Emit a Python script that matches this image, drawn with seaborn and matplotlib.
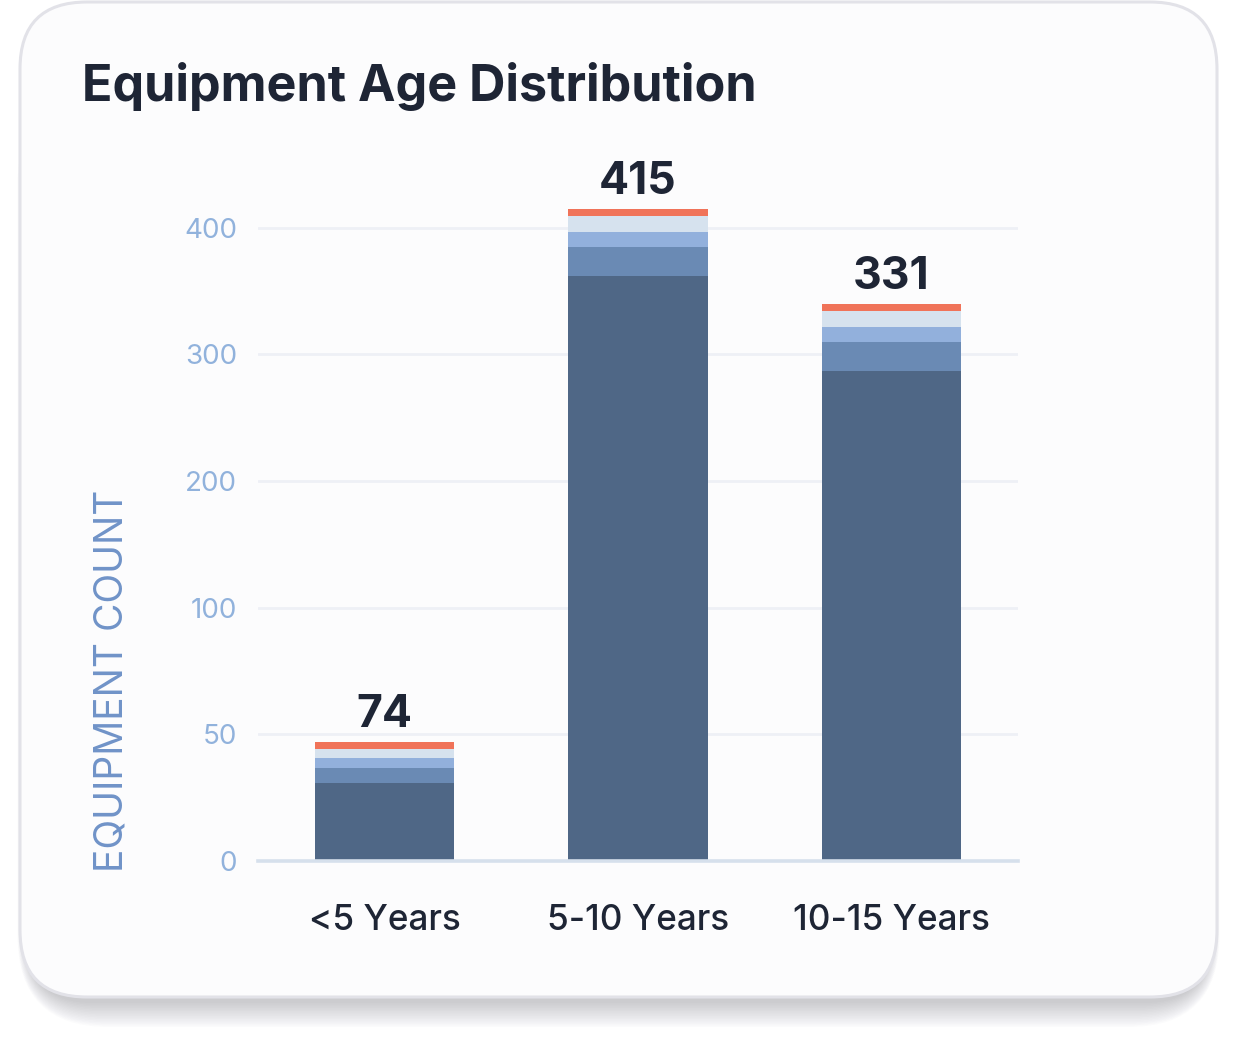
import numpy as np
import pandas as pd
import matplotlib
matplotlib.use("Agg")
import matplotlib.pyplot as plt
import seaborn as sns
from matplotlib.patches import FancyBboxPatch
from matplotlib.transforms import IdentityTransform

# ---------------- data ----------------
categories = ["<5 Years", "5-10 Years", "10-15 Years"]
seg_dark = [30.7, 362.0, 287.0]
seg_mid = [6.2, 22.6, 22.6]
seg_light = [3.8, 12.3, 12.3]
seg_pale = [3.6, 12.6, 12.4]
seg_red = [2.6, 5.1, 5.3]
total_labels = [74, 415, 331]
y_ticks = [0, 50, 100, 200, 300, 400]

seg_colors = ["#4f6786", "#6a8ab4", "#92b0dc", "#d6e2ee", "#f07359"]

sns.set_theme(style="white")
plt.rcParams["font.family"] = ["Inter", "DejaVu Sans"]

W, H = 1238, 1038
fig = plt.figure(figsize=(W / 100, H / 100), dpi=100)
fig.patch.set_facecolor("white")

# ---------------- card + shadow ----------------
cx, cy, cw, ch, rad = 20, 41, 1197, 995, 67
for s in np.linspace(0, 24, 16):
    sh = FancyBboxPatch((cx + 6 - s * 0.35, cy - 6 - s), cw - 12 + s * 0.7, ch - 60,
                        boxstyle=f"round,pad=0,rounding_size={rad + s}",
                        transform=IdentityTransform(), fc="#5a5a6a",
                        alpha=0.02, lw=0, zorder=-20)
    fig.add_artist(sh)
card = FancyBboxPatch((cx, cy), cw, ch, boxstyle=f"round,pad=0,rounding_size={rad}",
                      transform=IdentityTransform(), fc="#fcfcfd", ec="#e2e2e8",
                      lw=2.2, zorder=-10)
fig.add_artist(card)

# ---------------- axes ----------------
ax_left, ax_right, ax_bottom, ax_top = 258, 1018, 861, 151.7
ax = fig.add_axes([ax_left / W, (H - ax_bottom) / H,
                   (ax_right - ax_left) / W, (ax_bottom - ax_top) / H])
ax.set_facecolor("none")


def fwd(v):
    v = np.asarray(v, dtype=float)
    return np.where(v <= 100, v / 50.0, 2.0 + (v - 100.0) / 100.0)


def inv(u):
    u = np.asarray(u, dtype=float)
    return np.where(u <= 2, u * 50.0, 100.0 + (u - 2.0) * 100.0)


segments = [seg_dark, seg_mid, seg_light, seg_pale, seg_red]
cum = np.cumsum(np.array(segments), axis=0)
df = pd.DataFrame({"category": categories})
for i in range(len(segments)):
    df[f"cum{i}"] = cum[i]

# draw from tallest cumulative to smallest so each layer shows
for i in reversed(range(len(segments))):
    sns.barplot(data=df, x="category", y=f"cum{i}", color=seg_colors[i],
                saturation=1, width=0.55, linewidth=0, ax=ax, zorder=2)

ax.set_yscale("function", functions=(fwd, inv))
ax.set_ylim(0, 460)
ax.set_xlim(-0.5, 2.5)
ax.set_yticks(y_ticks)
ax.set_yticklabels([str(t) for t in y_ticks])
ax.yaxis.set_minor_locator(matplotlib.ticker.NullLocator())

ax.yaxis.grid(True, color="#eef0f6", lw=2)
ax.xaxis.grid(False)
ax.set_axisbelow(True)
for side in ["left", "right", "top"]:
    ax.spines[side].set_visible(False)
ax.spines["bottom"].set_color("#d6e0ec")
ax.spines["bottom"].set_linewidth(2.6)
ax.spines["bottom"].set_zorder(5)

ax.tick_params(axis="y", length=0, pad=15, labelsize=20, labelcolor="#91b2dc")
ax.tick_params(axis="x", length=0, pad=31, labelsize=25.3, labelcolor="#1e2535")
for lbl in ax.get_xticklabels():
    lbl.set_fontweight("medium")
ax.set_xlabel("")
ax.set_ylabel("")

# totals above bars
tops = cum[-1]
for i, t in enumerate(total_labels):
    ax.annotate(str(t), xy=(i, tops[i]), xytext=(0, 11), textcoords="offset points",
                ha="center", va="baseline", fontsize=32, fontweight="bold",
                color="#1e2535", zorder=6)

# title and y label
fig.text(82 / W, (H - 101) / H, "Equipment Age Distribution", ha="left",
         va="baseline", fontsize=36.2, fontweight="bold", color="#1e2535")
fig.text(112 / W, (H - 681) / H, "EQUIPMENT COUNT", rotation=90, ha="center",
         va="center", fontsize=28, fontweight="normal", color="#7093c8")

fig.savefig("out.png", dpi=100, facecolor="white")
